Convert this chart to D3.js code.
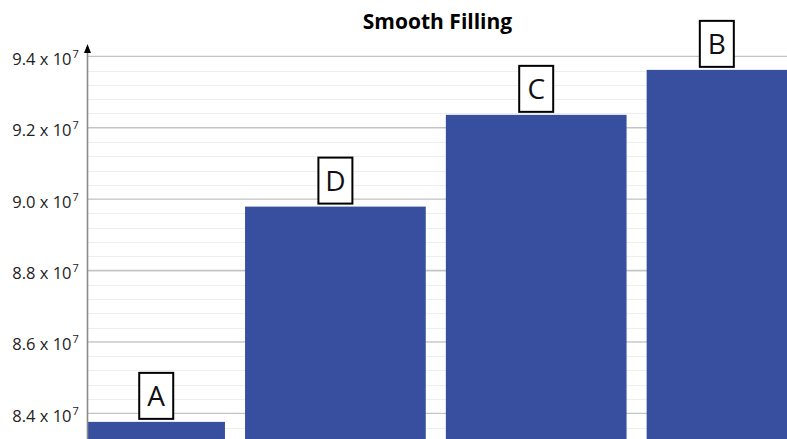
<!DOCTYPE html>
<html><head><meta charset="utf-8">
<script src="https://cdn.jsdelivr.net/npm/d3@7/dist/d3.min.js"></script>
<style>body{margin:0;background:#fff}svg{display:block}</style>
</head><body>
<svg id="chart" width="787" height="439"></svg>
<script>
const title = "Smooth Filling";
const categories = ["A", "D", "C", "B"];
const values = [8.376e7, 8.979e7, 9.236e7, 9.362e7];
const majorTicks = [8.4e7, 8.6e7, 8.8e7, 9.0e7, 9.2e7, 9.4e7];
const tickMantissa = ["8.4", "8.6", "8.8", "9.0", "9.2", "9.4"];
const minorStep = 0.04e7;

const W = 787, H = 439;
const axisX = 87.5;
const svg = d3.select("#chart");

const y = d3.scaleLinear().domain([8.4e7, 9.4e7]).range([413.3, 56.3]);
const x = d3.scaleBand().domain(categories).range([34.2, 837.4]).paddingInner(0.1).paddingOuter(0.05);

svg.append("defs").append("clipPath").attr("id", "plotclip")
  .append("rect").attr("x", axisX).attr("y", 0).attr("width", W - axisX).attr("height", H);

// minor grid
const minorVals = [];
for (let v = 8.4e7 - 2 * minorStep; v <= 9.4e7 + 1; v += minorStep) minorVals.push(v);
const g = svg.append("g").attr("clip-path", "url(#plotclip)");
g.selectAll("line.minor").data(minorVals).join("line")
  .attr("x1", axisX).attr("x2", W)
  .attr("y1", d => Math.round(y(d)) + 0.5).attr("y2", d => Math.round(y(d)) + 0.5)
  .attr("stroke", "#eeeeee").attr("stroke-width", 1);
g.selectAll("line.major").data(majorTicks).join("line")
  .attr("x1", axisX).attr("x2", W)
  .attr("y1", d => y(d)).attr("y2", d => y(d))
  .attr("stroke", "#c4c4c4").attr("stroke-width", 1.3);

// bars
g.selectAll("rect.bar").data(categories).join("rect")
  .attr("x", d => x(d)).attr("width", x.bandwidth())
  .attr("y", (d, i) => y(values[i])).attr("height", (d, i) => H - y(values[i]))
  .attr("fill", "#384fa0");

// axis line with arrow
svg.append("line").attr("x1", axisX).attr("x2", axisX).attr("y1", 50).attr("y2", H)
  .attr("stroke", "#8a8a8a").attr("stroke-width", 1.6);
svg.append("path").attr("d", `M${axisX - 3.5},53 L${axisX},44 L${axisX + 3.5},53 Z`).attr("fill", "#000");

// tick labels
svg.selectAll("text.tick").data(majorTicks).join("text")
  .attr("x", 71.5).attr("y", d => y(d) + 8.5)
  .attr("text-anchor", "end")
  .attr("font-family", "'Open Sans', 'Liberation Sans', sans-serif")
  .attr("font-size", 16.5).attr("fill", "#222")
  .text((d, i) => tickMantissa[i] + " x 10");
svg.selectAll("text.sup").data(majorTicks).join("text")
  .attr("x", 72.5).attr("y", d => y(d) + 1.5)
  .attr("font-family", "'Open Sans', 'Liberation Sans', sans-serif")
  .attr("font-size", 11).attr("fill", "#222").text("7");

// labels in boxes
const bw = 34, bh = 46;
const lab = svg.selectAll("g.lab").data(categories).join("g").attr("class", "lab")
  .attr("transform", (d, i) => {
    const l = Math.max(x(d), axisX), r = Math.min(x(d) + x.bandwidth(), W);
    const cx = (l + r) / 2;
    return `translate(${cx},${y(values[i]) - 3 - bh / 2})`;
  });
lab.append("rect").attr("x", -bw / 2).attr("y", -bh / 2).attr("width", bw).attr("height", bh)
  .attr("fill", "#fff").attr("stroke", "#000").attr("stroke-width", 2);
lab.append("text").attr("text-anchor", "middle").attr("y", 10)
  .attr("font-family", "'Open Sans', 'Liberation Sans', sans-serif")
  .attr("font-size", 28).attr("fill", "#111").text(d => d);

// title
svg.append("text").attr("x", 437.5).attr("y", 29).attr("text-anchor", "middle")
  .attr("font-family", "'Open Sans', 'Liberation Sans', sans-serif")
  .attr("font-weight", "bold").attr("font-size", 21).attr("fill", "#000").text(title);
</script>
</body></html>
